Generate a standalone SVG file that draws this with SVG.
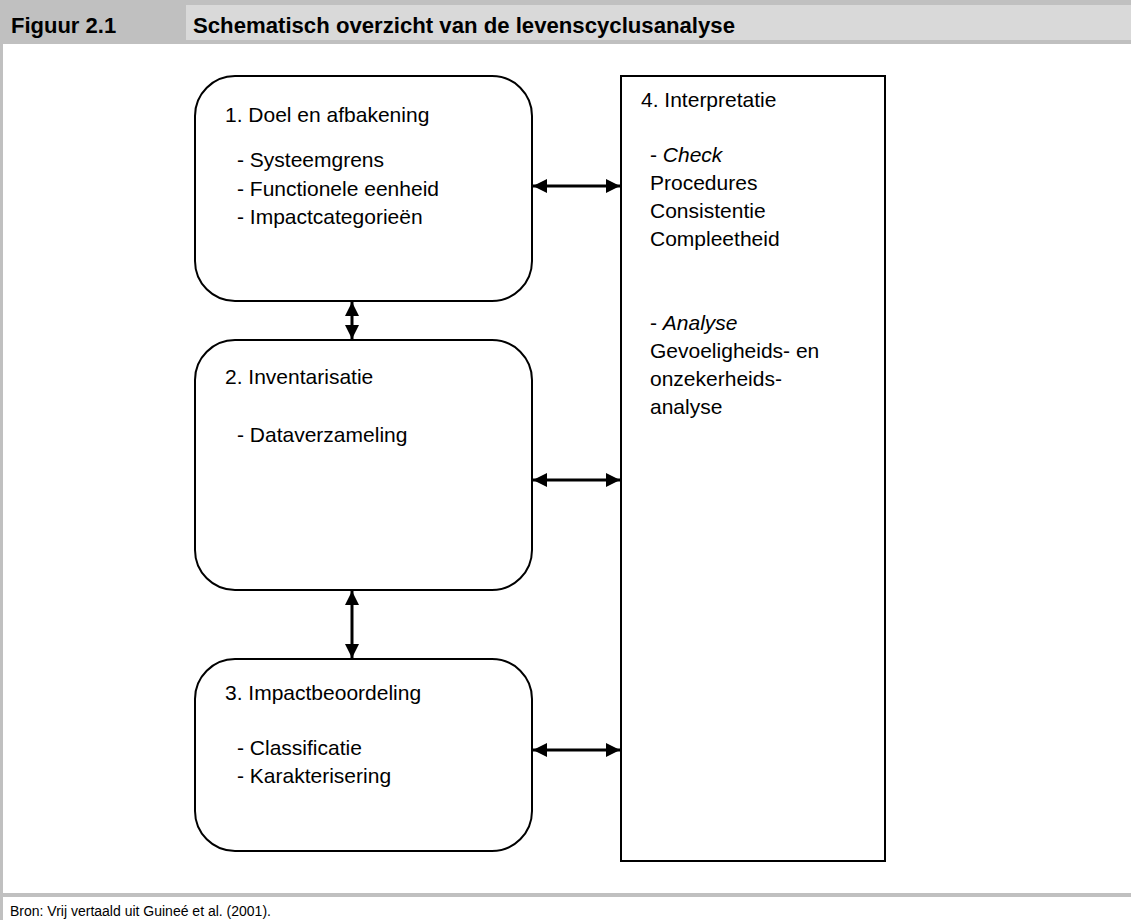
<svg xmlns="http://www.w3.org/2000/svg" width="1131" height="920" viewBox="0 0 1131 920">
<defs>
<marker id="ah" viewBox="0 0 14 14" refX="14" refY="7" markerWidth="14" markerHeight="14" markerUnits="userSpaceOnUse" orient="auto-start-reverse">
<path d="M0,0 L14,7 L0,14 Z" fill="#000"/>
</marker>
<style>
.t{font-family:"Liberation Sans",Arial,sans-serif;font-size:21px;fill:#000}
.h{font-family:"Liberation Sans",Arial,sans-serif;font-weight:bold;font-size:22px;fill:#000}
.f{font-family:"Liberation Sans",Arial,sans-serif;font-size:14px;fill:#000}
.box{fill:#fff;stroke:#000;stroke-width:2}
.c{stroke:#000;stroke-width:3;fill:none;marker-start:url(#ah);marker-end:url(#ah)}
</style>
</defs>
<rect x="0" y="0" width="1131" height="920" fill="#fff"/>
<g id="frame">
<rect x="0" y="0" width="1131" height="44" fill="#c0c0c0"/>
<rect x="186" y="5" width="945" height="35" fill="#d9d9d9"/>
<rect x="0" y="0" width="3" height="920" fill="#c0c0c0"/>
<rect x="0" y="893" width="1131" height="4" fill="#c0c0c0"/>
<text class="h" x="11" y="33">Figuur 2.1</text>
<text class="h" x="193" y="33" textLength="542" lengthAdjust="spacingAndGlyphs">Schematisch overzicht van de levenscyclusanalyse</text>
<text class="f" x="10" y="916">Bron: Vrij vertaald uit Guineé et al. (2001).</text>
</g>
<g id="connectors">
<line class="c" x1="533" y1="186" x2="620" y2="186"/>
<line class="c" x1="533" y1="480" x2="620" y2="480"/>
<line class="c" x1="533" y1="750" x2="620" y2="750"/>
<line class="c" x1="352" y1="302" x2="352" y2="339"/>
<line class="c" x1="352" y1="591" x2="352" y2="658"/>
</g>
<g id="node1">
<rect class="box" x="195" y="76" width="337" height="225" rx="40" ry="40"/>
<text class="t" x="225" y="122">1. Doel en afbakening</text>
<text class="t" x="237" y="167">- Systeemgrens</text>
<text class="t" x="237" y="196">- Functionele eenheid</text>
<text class="t" x="237" y="224">- Impactcategorieën</text>
</g>
<g id="node2">
<rect class="box" x="195" y="340" width="337" height="250" rx="40" ry="40"/>
<text class="t" x="225" y="384">2. Inventarisatie</text>
<text class="t" x="237" y="442">- Dataverzameling</text>
</g>
<g id="node3">
<rect class="box" x="195" y="659" width="337" height="192" rx="40" ry="40"/>
<text class="t" x="225" y="700">3. Impactbeoordeling</text>
<text class="t" x="237" y="755">- Classificatie</text>
<text class="t" x="237" y="783">- Karakterisering</text>
</g>
<g id="node4">
<rect class="box" x="621" y="76" width="264" height="785"/>
<text class="t" x="641" y="107">4. Interpretatie</text>
<text class="t" x="650" y="162">- <tspan font-style="italic">Check</tspan></text>
<text class="t" x="650" y="190">Procedures</text>
<text class="t" x="650" y="218">Consistentie</text>
<text class="t" x="650" y="246">Compleetheid</text>
<text class="t" x="650" y="330">- <tspan font-style="italic">Analyse</tspan></text>
<text class="t" x="650" y="358">Gevoeligheids- en</text>
<text class="t" x="650" y="386">onzekerheids-</text>
<text class="t" x="650" y="414">analyse</text>
</g>
</svg>
